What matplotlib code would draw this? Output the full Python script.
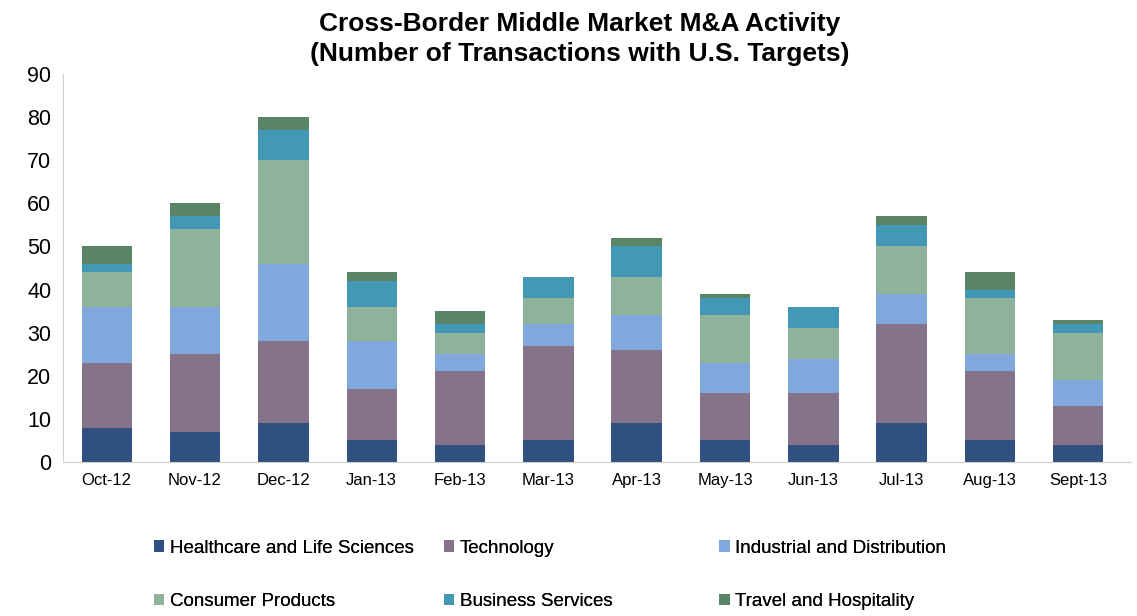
import matplotlib.pyplot as plt
import numpy as np

months = ['Oct-12', 'Nov-12', 'Dec-12', 'Jan-13', 'Feb-13', 'Mar-13',
          'Apr-13', 'May-13', 'Jun-13', 'Jul-13', 'Aug-13', 'Sept-13']

healthcare = [8, 7, 9, 5, 4, 5, 9, 5, 4, 9, 5, 4]
technology = [15, 18, 19, 12, 17, 22, 17, 11, 12, 23, 16, 9]
industrial = [13, 11, 18, 11, 4, 5, 8, 7, 8, 7, 4, 6]
consumer = [8, 18, 24, 8, 5, 6, 9, 11, 7, 11, 13, 11]
business = [2, 3, 7, 6, 2, 5, 7, 4, 5, 5, 2, 2]
travel = [4, 3, 3, 2, 3, 0, 2, 1, 0, 2, 4, 1]

series = [
    ('Healthcare and Life Sciences', healthcare, '#2f5080'),
    ('Technology', technology, '#857489'),
    ('Industrial and Distribution', industrial, '#80a8dc'),
    ('Consumer Products', consumer, '#8fb39a'),
    ('Business Services', business, '#4298b5'),
    ('Travel and Hospitality', travel, '#5a8466'),
]

plt.rcParams['font.family'] = ['Liberation Sans', 'DejaVu Sans']

fig = plt.figure(figsize=(11.37, 6.16), dpi=100)
ax = fig.add_axes([0.055, 0.25, 0.94, 0.63])

x = np.arange(len(months))
bottom = np.zeros(len(months))
handles = []
for name, vals, color in series:
    b = ax.bar(x, vals, 0.57, bottom=bottom, color=color, label=name)
    handles.append(b)
    bottom += np.array(vals)

ax.set_ylim(0, 90)
ax.set_yticks(range(0, 91, 10))
ax.set_xlim(-0.5, 11.6)
ax.set_xticks(x)
ax.set_xticklabels(months, fontsize=12)
ax.tick_params(axis='y', labelsize=15.5, length=0, pad=8)
ax.tick_params(axis='x', length=0, pad=8)
for s in ['top', 'right']:
    ax.spines[s].set_visible(False)
for s in ['left', 'bottom']:
    ax.spines[s].set_color('#d0d0d0')

fig.suptitle('Cross-Border Middle Market M&A Activity\n(Number of Transactions with U.S. Targets)',
             x=0.51, y=0.98, fontsize=19, fontweight='bold', linespacing=1.3)

# one legend per column (row 1 / row 2)
col_x = [0.124, 0.379, 0.621]
for c in range(3):
    idx = [c, c + 3]
    leg = fig.legend([handles[i] for i in idx], [series[i][0] for i in idx],
                     loc='lower left', bbox_to_anchor=(col_x[c], -0.012), ncol=1,
                     frameon=False, fontsize=13.5, handlelength=0.55, handleheight=0.55,
                     handletextpad=0.3, labelspacing=1.95, borderaxespad=0.3)
    fig.add_artist(leg)

fig.savefig('out.png', dpi=100)
